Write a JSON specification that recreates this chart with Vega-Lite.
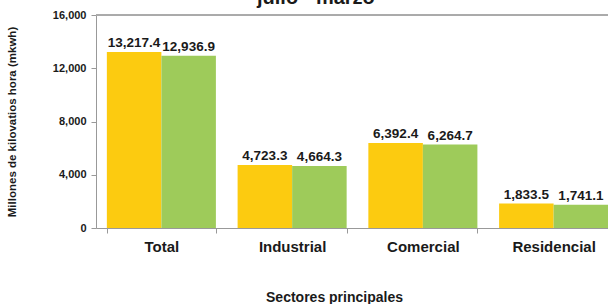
{
  "$schema": "https://vega.github.io/schema/vega-lite/v6.json",
  "autosize": "none",
  "width": 512,
  "height": 213,
  "padding": {"left": 96, "top": 15, "right": 0, "bottom": 76},
  "background": "white",
  "config": {
    "font": "Liberation Sans",
    "view": {"stroke": null},
    "axis": {"labelFont": "Liberation Sans", "titleFont": "Liberation Sans"}
  },
  "title": {
    "text": "julio - marzo",
    "font": "Liberation Sans",
    "fontSize": 20,
    "fontWeight": "bold",
    "color": "#1a1a1a",
    "anchor": "start",
    "frame": "group",
    "dx": 161,
    "dy": 15,
    "baseline": "alphabetic",
    "offset": 0
  },
  "data": {
    "values": [
      {"sector": "Total", "periodo": "A", "valor": 13217.4},
      {"sector": "Total", "periodo": "B", "valor": 12936.9},
      {"sector": "Industrial", "periodo": "A", "valor": 4723.3},
      {"sector": "Industrial", "periodo": "B", "valor": 4664.3},
      {"sector": "Comercial", "periodo": "A", "valor": 6392.4},
      {"sector": "Comercial", "periodo": "B", "valor": 6264.7},
      {"sector": "Residencial", "periodo": "A", "valor": 1833.5},
      {"sector": "Residencial", "periodo": "B", "valor": 1741.1}
    ]
  },
  "encoding": {
    "x": {
      "field": "sector",
      "type": "nominal",
      "sort": ["Total", "Industrial", "Comercial", "Residencial"],
      "scale": {"range": [0, 523], "paddingInner": 0.166, "paddingOuter": 0.083},
      "axis": {
        "title": "Sectores principales",
        "titleFontSize": 14,
        "titleFontWeight": "bold",
        "titleColor": "#1a1a1a",
        "titleX": 238,
        "titleY": 62,
        "titleBaseline": "top",
        "labelAngle": 0,
        "labelFontSize": 15,
        "labelFontWeight": "bold",
        "labelColor": "#1a1a1a",
        "labelPadding": 6,
        "domainColor": "#999999",
        "tickColor": "#999999",
        "tickSize": 5,
        "tickBand": "extent",
        "grid": false
      }
    },
    "xOffset": {"field": "periodo", "type": "nominal", "scale": {"paddingInner": 0, "paddingOuter": 0}},
    "y": {
      "field": "valor",
      "type": "quantitative",
      "scale": {"domain": [0, 16000], "nice": false},
      "axis": {
        "title": "Millones de kilovatios hora (mkwh)",
        "titleFontSize": 11.5,
        "titleFontWeight": "bold",
        "titleColor": "#1a1a1a",
        "titleX": -84,
        "titleBaseline": "middle",
        "values": [0, 4000, 8000, 12000, 16000],
        "format": ",.0f",
        "labelFontSize": 11,
        "labelFontWeight": "bold",
        "labelColor": "#1a1a1a",
        "labelPadding": 5,
        "domainColor": "#999999",
        "tickColor": "#999999",
        "tickSize": 5,
        "grid": false
      }
    }
  },
  "layer": [
    {
      "mark": {"type": "bar"},
      "encoding": {
        "color": {
          "field": "periodo",
          "type": "nominal",
          "scale": {"domain": ["A", "B"], "range": ["#FCCB10", "#9ECB5A"]},
          "legend": null
        }
      }
    },
    {
      "mark": {"type": "text", "baseline": "alphabetic", "dy": -5, "fontSize": 13.5, "fontWeight": "bold", "color": "#1a1a1a", "font": "Liberation Sans"},
      "encoding": {
        "text": {"field": "valor", "type": "quantitative", "format": ",.1f"}
      }
    },
    {
      "mark": {"type": "rule", "color": "#aaaaaa", "strokeWidth": 1},
      "encoding": {"y": {"datum": 16000}, "x": null, "xOffset": null}
    }
  ]
}
